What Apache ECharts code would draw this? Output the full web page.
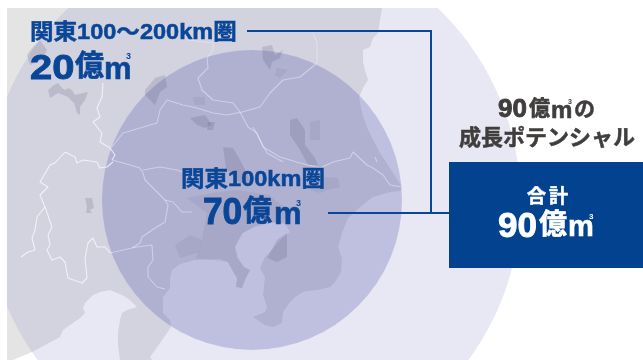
<!DOCTYPE html>
<html lang="ja">
<head>
<meta charset="utf-8">
<style>html,body{margin:0;padding:0;background:#fff}#c{width:643px;height:360px}</style>
<script src="https://cdn.jsdelivr.net/npm/echarts@6/dist/echarts.min.js"></script>
</head>
<body>
<div id="c"></div>
<script>
// Potential by area, in 億m3
const areaNames = ['関東100～200km圏', '関東100km圏'];
const areaValues = [20, 70];
const totalValue = 90;
const totalLabel = ['合', '計'];
const headline = ['の', '成長ポテンシャル'];

// Map outlines in plot units
const land = [[7,8],[382,8],[380,20],[378,33],[373,38],[370,47],[363,50],[363,62],[365,70],[368,80],[363,88],[359,97],
  [362,113],[368,130],[380,153],[393,173],[402,187],[400,191],[390,192],[373,197],[360,207],[348,218],[342,233],[338,247],
  [342,258],[341,272],[335,282],[330,287],[318,290],[307,291],[303,292],[295,297],[290,302],[283,312],[282,323],[273,327],
  [265,325],[253,317],[265,312],[267,307],[263,295],[265,277],[260,268],[265,257],[272,250],[280,240],[290,232],[285,224],
  [275,222],[255,226],[243,233],[237,243],[235,247],[238,258],[244,267],[250,270],[245,280],[242,288],[236,287],[237,278],
  [232,270],[228,262],[220,259],[195,260],[180,264],[172,270],[170,278],[170,288],[163,297],[163,313],[170,320],[171,327],
  [160,343],[150,357],[152,360],[120,360],[118,345],[118,333],[120,320],[122,313],[127,310],[137,307],[130,300],[122,295],
  [110,290],[100,292],[93,295],[85,303],[83,308],[85,313],[80,318],[63,330],[60,337],[32,352],[13,360],[7,360]];

const urbanStrong = [
  [[48,90],[54,85],[58,83],[62,88],[65,90],[68,88],[72,90],[75,95],[88,92],[85,100],[80,107],[80,115],[77,113],[74,103],[68,97],[58,93],[50,98]],
  [[27,55],[32,48],[40,40],[47,50],[42,60],[30,65]],
  [[145,90],[155,78],[165,75],[167,87],[160,92],[155,105],[145,95]],
  [[85,198],[92,198],[94,208],[90,210],[92,213],[86,213],[87,207]],
  [[262,47],[272,45],[275,55],[283,50],[280,58],[272,62],[270,70],[263,60]],
  [[190,118],[205,115],[212,125],[205,128],[197,125]],
  [[208,122],[215,122],[213,130],[207,130]],
  [[223,147],[233,148],[240,160],[248,175],[250,185],[238,182],[226,168]],
  [[290,120],[297,118],[305,130],[305,145],[315,158],[318,165],[308,165],[300,150],[290,135]],
  [[267,258],[277,240],[287,233],[287,243],[287,257],[277,262]]
];
const urbanSoft = [
  [[187,198],[213,193],[237,190],[270,195],[277,202],[290,210],[283,223],[270,223],[253,228],[242,233],[235,247],[237,258],[244,267],[250,270],[245,280],[242,288],[236,287],[237,278],[228,262],[195,258],[200,250],[207,213]],
  [[277,68],[288,70],[280,78],[275,75]],
  [[193,97],[205,97],[205,105],[195,105]],
  [[310,122],[320,120],[320,140],[310,140]],
  [[310,190],[323,177],[338,178],[340,187],[327,190],[320,193]],
  [[175,245],[190,235],[202,240],[200,252],[180,258]]
];
const bordersOuter = [
  [[103,83],[102,97],[97,108],[100,117],[93,122],[102,133],[100,142],[110,148],[115,155],[112,160]],
  [[65,152],[55,163],[50,165],[40,182],[48,187],[40,195],[45,207],[52,227],[48,235],[50,245],[47,250],[52,260],[60,257],[65,262],[68,278],[82,283],[87,278],[85,258],[88,243],[93,238],[97,247],[105,247],[110,253]],
  [[45,207],[37,217],[35,230],[32,238],[35,250],[28,252],[21,257]],
  [[65,152],[75,157],[77,163],[83,160],[97,162],[100,168],[107,167],[113,162]]
];
const bordersInner = [
  [[187,40],[213,43],[213,50],[207,58],[208,68],[198,78],[202,90],[213,100],[233,103],[240,112],[248,127],[257,133],[263,147],[280,157],[300,163],[320,168],[333,162],[350,158],[353,152],[367,165],[373,168],[383,175],[390,185],[402,187]],
  [[112,147],[123,133],[140,128],[157,123],[160,110],[167,100],[183,105],[197,108],[213,113],[227,115],[242,112],[260,107],[270,93],[283,80],[300,77],[317,63],[317,43],[313,33]],
  [[110,253],[132,248],[137,247],[152,245],[153,260],[148,267],[148,277],[157,287],[165,289]],
  [[112,160],[123,163],[140,168],[143,173],[145,180],[148,183],[165,200],[173,202],[182,212],[192,212]],
  [[165,200],[168,205],[165,222],[155,228],[142,237],[140,243],[132,248]],
  [[143,170],[160,167],[177,170],[190,175]],
  [[253,127],[260,140],[267,153],[283,162]],
  [[375,157],[377,162]]
];

const layers = [
  {kind:'poly', pts:land, fill:'#e4e4e4'},
  {kind:'disc', c:[253,201.5], r:267.5, fill:'rgba(150,150,205,0.22)'},
  {kind:'disc', c:[252,200], r:150, fill:'rgba(86,88,172,0.28)'}
];
urbanStrong.forEach(p => layers.push({kind:'poly', pts:p, fill:'rgba(90,90,120,0.2)'}));
urbanSoft.forEach(p => layers.push({kind:'poly', pts:p, fill:'rgba(90,90,120,0.1)'}));
bordersOuter.forEach(p => layers.push({kind:'line', pts:p, stroke:'rgba(248,248,252,0.8)'}));
bordersInner.forEach(p => layers.push({kind:'line', pts:p, stroke:'rgba(238,238,250,0.5)'}));

function renderLayer(params, api) {
  const l = layers[params.dataIndex];
  if (l.kind === 'disc') {
    const c = api.coord(l.c);
    return {type:'circle', silent:true, shape:{cx:c[0], cy:c[1], r:api.size([l.r,0])[0]}, style:{fill:l.fill}};
  }
  const points = l.pts.map(p => api.coord(p));
  if (l.kind === 'poly') return {type:'polygon', silent:true, shape:{points}, style:{fill:l.fill}};
  return {type:'polyline', silent:true, shape:{points}, style:{fill:null, stroke:l.stroke, lineWidth:1.1, lineJoin:'round'}};
}

const BLUE = '#0a4697', NAVY = '#03428f', INK = '#403d3d';
const FONT = '"Liberation Sans","Noto Sans CJK JP",sans-serif';

function text(str, x, y, size, fill, align, sx, weight) {
  return {type:'text', z:100, x, y, scaleX:sx||1,
    style:{text:str, font:'bold '+size+'px '+FONT, fill, stroke:fill, lineWidth:weight===undefined?0.5:weight,
      textAlign:align||'left', textVerticalAlign:'middle'}};
}
// amount drawn piecewise: number, 億, m and a small raised 3
function amount(v, f, fill) {
  return [
    text(String(v), f.x, f.y, f.num, fill, 'left', f.numScale, 0.9),
    text('億', f.okuX, f.y - 1, f.oku, fill, 'left', 1, 0.7),
    text('m', f.mX, f.y + f.mDy, f.m, fill, 'left', 1, 0.6),
    text('3', f.supX, f.supY, f.sup, fill, 'left', 1, 0)
  ];
}

const chart = echarts.init(document.getElementById('c'), null, {renderer:'canvas'});
chart.setOption({
  animation:false,
  backgroundColor:'#fff',
  grid:{left:0, right:0, top:0, bottom:0},
  xAxis:{type:'value', min:0, max:643, show:false},
  yAxis:{type:'value', min:0, max:360, inverse:true, show:false},
  series:[{type:'custom', coordinateSystem:'cartesian2d', clip:false, silent:true,
    data:layers.map(() => [0,0]), renderItem:renderLayer}],
  graphic:{elements:[
    {type:'rect', z:50, shape:{x:0,y:0,width:7,height:360}, style:{fill:'#fff'}},
    {type:'rect', z:50, shape:{x:0,y:0,width:643,height:8}, style:{fill:'#fff'}},
    {type:'polyline', z:60, shape:{points:[[247,31],[431,31],[431,213]]}, style:{fill:null, stroke:BLUE, lineWidth:2}},
    {type:'line', z:60, shape:{x1:328,y1:213,x2:449,y2:213}, style:{stroke:BLUE, lineWidth:2}},
    {type:'rect', z:70, shape:{x:449,y:162,width:194,height:106}, style:{fill:NAVY}},
    text(areaNames[0], 30, 33, 22, BLUE, 'left', 1.07),
    ...amount(areaValues[0], {x:30,y:69,num:35,numScale:1.14,okuX:75,oku:29,mX:104,mDy:1,m:31,supX:126,supY:57,sup:9}, BLUE),
    text(areaNames[1], 181, 180, 22, BLUE, 'left', 1.07),
    ...amount(areaValues[1], {x:203,y:214,num:36,numScale:0.98,okuX:243,oku:29,mX:274,mDy:1,m:31,supX:296,supY:204,sup:9}, BLUE),
    ...amount(totalValue, {x:498,y:227,num:35,numScale:1,okuX:539,oku:28,mX:568,mDy:1,m:29,supX:589,supY:217,sup:8}, '#fff'),
    text(totalLabel[0], 527, 198, 19, '#fff'),
    text(totalLabel[1], 549, 198, 19, '#fff'),
    ...amount(totalValue, {x:498,y:110,num:26,numScale:1.0,okuX:529,oku:21,mX:551,mDy:1,m:24,supX:568,supY:102,sup:7}, INK),
    text(headline[0], 574, 110, 21, INK),
    text(headline[1], 547, 139, 22, INK, 'center')
  ]}
});
</script>
</body>
</html>
